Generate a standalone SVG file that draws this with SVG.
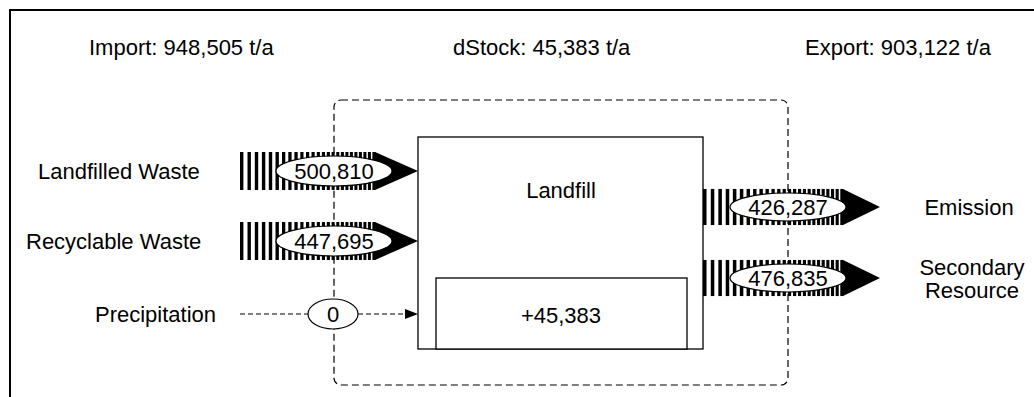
<svg xmlns="http://www.w3.org/2000/svg" xmlns:xlink="http://www.w3.org/1999/xlink" width="1034" height="397" viewBox="0 0 1034 397">
<style>
text{font-family:"Liberation Sans",Arial,sans-serif;font-size:22px;fill:#000}
.mid{text-anchor:middle}
.box{fill:#fff;stroke:#000;stroke-width:1.3}
.bound{fill:none;stroke:#000;stroke-width:1.2;stroke-dasharray:7 4}
.dash{fill:none;stroke:#000;stroke-width:1.2;stroke-dasharray:5 3}
.lbl{fill:#fff;stroke:#000;stroke-width:1.2}
.head{fill:#000}
</style>
<defs>
<g id="stripes">
<rect x="0" y="-19" width="3.4" height="38"/>
<rect x="7.5" y="-19" width="3.4" height="38"/>
<rect x="14.8" y="-19" width="3.4" height="38"/>
<rect x="21.9" y="-19" width="3.4" height="38"/>
<rect x="28.8" y="-19" width="3.4" height="38"/>
<rect x="35.5" y="-19" width="3.4" height="38"/>
<rect x="42" y="-19" width="3.3" height="38"/>
<rect x="48.3" y="-19" width="3.3" height="38"/>
<rect x="54.4" y="-19" width="3.3" height="38"/>
<rect x="60.3" y="-19" width="3.2" height="38"/>
<rect x="66" y="-19" width="3.2" height="38"/>
<rect x="71.5" y="-19" width="3.2" height="38"/>
<rect x="76.8" y="-19" width="3.1" height="38"/>
<rect x="81.9" y="-19" width="3.1" height="38"/>
<rect x="86.8" y="-19" width="3.1" height="38"/>
<rect x="91.6" y="-19" width="3" height="38"/>
<rect x="96.3" y="-19" width="3" height="38"/>
<rect x="100.9" y="-19" width="3" height="38"/>
<rect x="105.4" y="-19" width="3" height="38"/>
<rect x="109.9" y="-19" width="3" height="38"/>
<rect x="114.4" y="-19" width="3" height="38"/>
<rect x="118.9" y="-19" width="3" height="38"/>
<rect x="123.4" y="-19" width="3" height="38"/>
<rect x="127.9" y="-19" width="3" height="38"/>
<rect x="132.4" y="-19" width="3" height="38"/>
</g>
</defs>
<g id="frame">
<path d="M10 397 V10 H1034" fill="none" stroke="#000" stroke-width="2"/>
</g>
<g id="summary">
<text x="89" y="55">Import: 948,505 t/a</text>
<text x="453" y="55">dStock: 45,383 t/a</text>
<text x="805" y="55">Export: 903,122 t/a</text>
</g>
<g id="boundary">
<rect class="bound" x="334" y="100" width="454" height="285" rx="7"/>
</g>
<g id="landfill">
<rect class="box" x="418" y="137" width="285" height="212"/>
<text class="mid" x="561" y="198">Landfill</text>
</g>
<g id="stock">
<rect class="box" x="436" y="278" width="251" height="71"/>
<text class="mid" x="561" y="323">+45,383</text>
</g>
<g id="labels">
<text x="38" y="179">Landfilled Waste</text>
<text x="26" y="249">Recyclable Waste</text>
<text x="95" y="322">Precipitation</text>
<text class="mid" x="969" y="215">Emission</text>
<text class="mid" x="972" y="275">Secondary</text>
<text class="mid" x="972" y="298">Resource</text>
</g>
<g id="connectors">
<g id="f-landfilled">
<use xlink:href="#stripes" transform="translate(240,171)"/>
<polygon class="head" points="375,152 418,171 375,190"/>
<ellipse class="lbl" cx="334" cy="171" rx="58" ry="15"/>
<text class="mid" x="334" y="178.7">500,810</text>
</g>
<g id="f-recyclable">
<use xlink:href="#stripes" transform="translate(240,241)"/>
<polygon class="head" points="375,222 418,241 375,260"/>
<ellipse class="lbl" cx="334" cy="241" rx="58" ry="15"/>
<text class="mid" x="334" y="248.7">447,695</text>
</g>
<g id="f-precip">
<path class="dash" d="M240 314 H309 M358 314 H406"/>
<polygon class="head" points="405,309 418,314 405,319"/>
<ellipse class="lbl" cx="333" cy="314" rx="25" ry="15"/>
<text class="mid" x="333" y="321.7">0</text>
</g>
<g id="f-emission">
<use xlink:href="#stripes" transform="translate(703,207) scale(1.037,0.95)"/>
<polygon class="head" points="843,189 880,207 843,225"/>
<ellipse class="lbl" cx="788" cy="207" rx="58" ry="14"/>
<text class="mid" x="788" y="214.7">426,287</text>
</g>
<g id="f-secondary">
<use xlink:href="#stripes" transform="translate(703,278) scale(1.037,0.95)"/>
<polygon class="head" points="843,260 880,278 843,296"/>
<ellipse class="lbl" cx="788" cy="278" rx="58" ry="14"/>
<text class="mid" x="788" y="285.7">476,835</text>
</g>
</g>
</svg>
